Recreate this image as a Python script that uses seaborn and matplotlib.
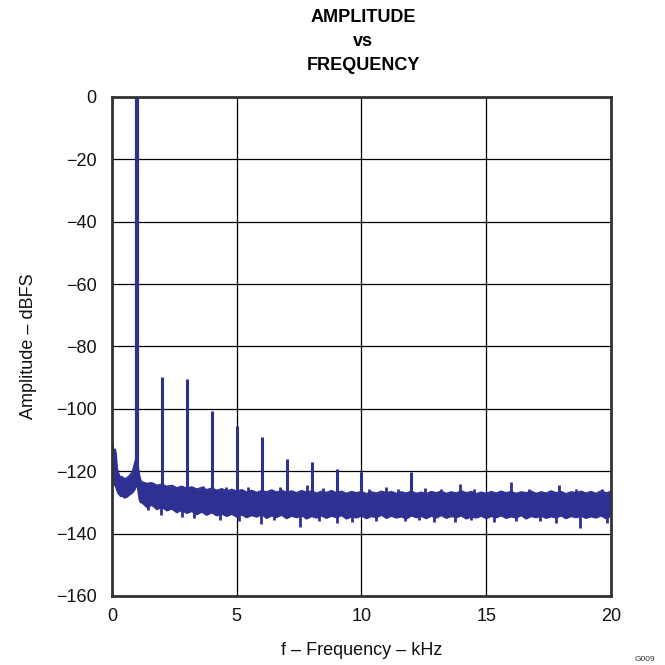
import numpy as np
import pandas as pd
import matplotlib
matplotlib.use("Agg")
import matplotlib.pyplot as plt
import seaborn as sns

# --- data (kHz, dBFS) ---
# fundamental + harmonics
harm_freq = [1, 2, 3, 4, 5, 6, 7, 8, 9, 10, 12]
harm_level = [0, -89.7, -90.4, -100.6, -105.6, -109.0, -116.0, -117.2, -119.2, -120.4, -120.1]

# low-frequency part of the noise band (DC skirt and skirt of the 1 kHz tone)
lf_freq = [0.0, 0.04, 0.08, 0.12, 0.16, 0.2, 0.25, 0.3, 0.35, 0.4, 0.5, 0.6,
           0.7, 0.8, 0.85, 0.9, 0.95, 1.0, 1.05, 1.1, 1.15]
lf_upper = [-110.0, -112.0, -115.5, -113.0, -114.5, -119.0, -120.5, -121.5, -122.0, -121.8, -122.5, -122.2,
            -121.5, -120.5, -119.5, -118.0, -116.5, -116.0, -119.0, -121.5, -123.0]
lf_lower = [-112.0, -120.0, -124.0, -124.5, -125.0, -126.0, -127.0, -127.5, -128.0, -127.8, -128.5, -128.2,
            -127.5, -127.0, -126.5, -126.0, -125.0, -124.0, -126.0, -129.0, -130.0]

# noise band from 1.2 kHz to 20 kHz, 0.2 kHz steps
band_freq = np.round(np.arange(1.2, 20.01, 0.2), 1)
band_upper = [
    -123.5, -124.0, -123.8, -124.6, -124.2, -125.0, -124.6, -125.4, -124.9, -125.6,
    -125.1, -125.8, -125.3, -126.0, -125.5, -126.2, -125.7, -126.4, -125.9, -126.5,
    -126.0, -126.8, -126.2, -126.9, -126.3, -126.7, -126.1, -126.8, -126.2, -126.9,
    -126.4, -127.0, -126.3, -126.8, -126.4, -127.1, -126.5, -126.9, -126.3, -127.0,
    -126.5, -127.2, -126.6, -127.0, -126.6, -127.3, -126.7, -127.1, -126.5, -127.0,
    -126.6, -127.2, -126.7, -127.1, -126.5, -127.2, -126.8, -127.3, -126.6, -127.0,
    -126.5, -127.2, -126.7, -127.1, -126.4, -127.0, -126.6, -127.3, -126.8, -127.2,
    -126.6, -127.1, -126.5, -127.0, -126.6, -127.2, -126.7, -127.0, -126.5, -127.2,
    -126.7, -127.1, -126.4, -127.0, -126.6, -127.3, -126.7, -127.0, -126.5, -127.1,
    -126.6, -127.2, -126.4, -127.0, -126.6,
]
band_lower = [
    -130.0, -131.5, -130.8, -132.2, -131.4, -132.6, -132.0, -133.2, -132.4, -133.4,
    -132.8, -133.8, -133.0, -134.0, -133.2, -134.2, -133.6, -134.4, -133.7, -134.6,
    -133.9, -134.8, -134.1, -134.6, -133.8, -135.0, -134.2, -134.7, -134.0, -135.1,
    -134.3, -134.8, -134.1, -135.2, -134.4, -134.9, -134.2, -135.0, -134.3, -134.8,
    -134.1, -135.2, -134.5, -134.9, -134.2, -135.1, -134.4, -134.8, -134.0, -135.0,
    -134.3, -134.9, -134.5, -135.2, -134.2, -134.8, -134.4, -135.1, -134.3, -134.9,
    -134.1, -135.0, -134.4, -134.8, -134.2, -135.2, -134.5, -134.9, -134.3, -135.1,
    -134.4, -134.8, -134.2, -135.0, -134.5, -134.9, -134.1, -135.2, -134.4, -134.8,
    -134.3, -135.0, -134.5, -134.9, -134.2, -135.1, -134.4, -134.8, -134.3, -135.0,
    -134.5, -134.9, -134.2, -135.1, -134.4,
]

# short spurs above and dips below the noise band
spur_freq = [1.52, 2.26, 2.79, 3.65, 4.55, 5.45, 6.73, 7.83, 8.45, 10.32, 10.97,
             11.45, 12.55, 13.2, 13.96, 14.5, 15.98, 16.7, 17.93, 18.6, 19.63]
spur_level = [-123.5, -124.4, -124.8, -124.6, -125.2, -125.0, -125.0, -124.4, -125.5, -125.6, -125.1,
              -125.8, -125.5, -125.8, -124.0, -125.6, -123.6, -125.8, -124.4, -125.7, -125.7]
dip_freq = [1.45, 1.96, 2.79, 3.3, 4.33, 5.1, 5.97, 6.5, 7.54, 8.3, 9.03, 9.6,
            10.6, 11.74, 12.3, 12.9, 13.75, 14.4, 15.3, 16.2, 17.15, 17.8, 18.76, 19.83]
dip_level = [-132.4, -134.0, -134.8, -135.0, -135.7, -136.0, -136.8, -135.6, -138.0, -136.0, -136.6, -136.2,
             -136.0, -136.0, -135.8, -136.4, -136.3, -135.8, -136.2, -136.0, -136.0, -136.6, -138.2, -136.6]

x_ticks = [0, 5, 10, 15, 20]
y_ticks = [0, -20, -40, -60, -80, -100, -120, -140, -160]

color = "#2e3192"

band = pd.DataFrame({
    "freq": list(lf_freq) + list(band_freq),
    "upper": list(lf_upper) + list(band_upper),
    "lower": list(lf_lower) + list(band_lower),
})

sns.set_theme(style="white")
plt.rcParams["font.family"] = ["Liberation Sans", "DejaVu Sans"]

fig = plt.figure(figsize=(6.65, 6.65), dpi=100)
ax = fig.add_axes([0.1684, 0.1038, 0.7504, 0.7504])

# noise floor band
ax.fill_between(band["freq"], band["lower"], band["upper"], color=color, linewidth=0, zorder=3)
sns.lineplot(data=band, x="freq", y="upper", ax=ax, color=color, linewidth=1.4, zorder=3)
sns.lineplot(data=band, x="freq", y="lower", ax=ax, color=color, linewidth=1.4, zorder=3)

# spurs and dips
ax.vlines(spur_freq, -128, spur_level, color=color, linewidth=2.0, zorder=3)
ax.vlines(dip_freq, dip_level, -131, color=color, linewidth=2.0, zorder=3)

# tones
ax.vlines(harm_freq[:1], -124, harm_level[:1], color=color, linewidth=3.0, zorder=4)
ax.vlines(harm_freq[1:], -128, harm_level[1:], color=color, linewidth=2.2, zorder=4)

ax.set_xlim(0, 20)
ax.set_ylim(-160, 0)
ax.set_xticks(x_ticks)
ax.set_yticks(y_ticks)
ax.set_xticklabels([str(v) for v in x_ticks])
ax.set_yticklabels([str(v).replace("-", "\u2212") for v in y_ticks])
ax.tick_params(axis="both", length=0, labelsize=13, colors="#111111")
ax.tick_params(axis="x", pad=9)
ax.tick_params(axis="y", pad=11)

ax.grid(True, color="black", linewidth=0.9, zorder=1)
ax.set_axisbelow(True)
for s in ax.spines.values():
    s.set_color("#333333")
    s.set_linewidth(2.0)
    s.set_zorder(5)

ax.set_xlabel("f \u2013 Frequency \u2013 kHz", fontsize=13, color="#111111", labelpad=12)
ax.set_ylabel("Amplitude \u2013 dBFS", fontsize=13, color="#111111", labelpad=14)

title_font = ["Liberation Sans Narrow", "Liberation Sans", "DejaVu Sans"]
fig.text(0.546, 0.973, "AMPLITUDE", ha="center", va="center", fontsize=13,
         fontweight="bold", family=title_font, color="black")
fig.text(0.546, 0.937, "vs", ha="center", va="center", fontsize=13,
         fontweight="bold", family=title_font, color="black")
fig.text(0.546, 0.901, "FREQUENCY", ha="center", va="center", fontsize=13,
         fontweight="bold", family=title_font, color="black")

fig.text(0.985, 0.003, "G009", ha="right", va="bottom", fontsize=6, color="#333333")

fig.savefig("out.png", dpi=100)
